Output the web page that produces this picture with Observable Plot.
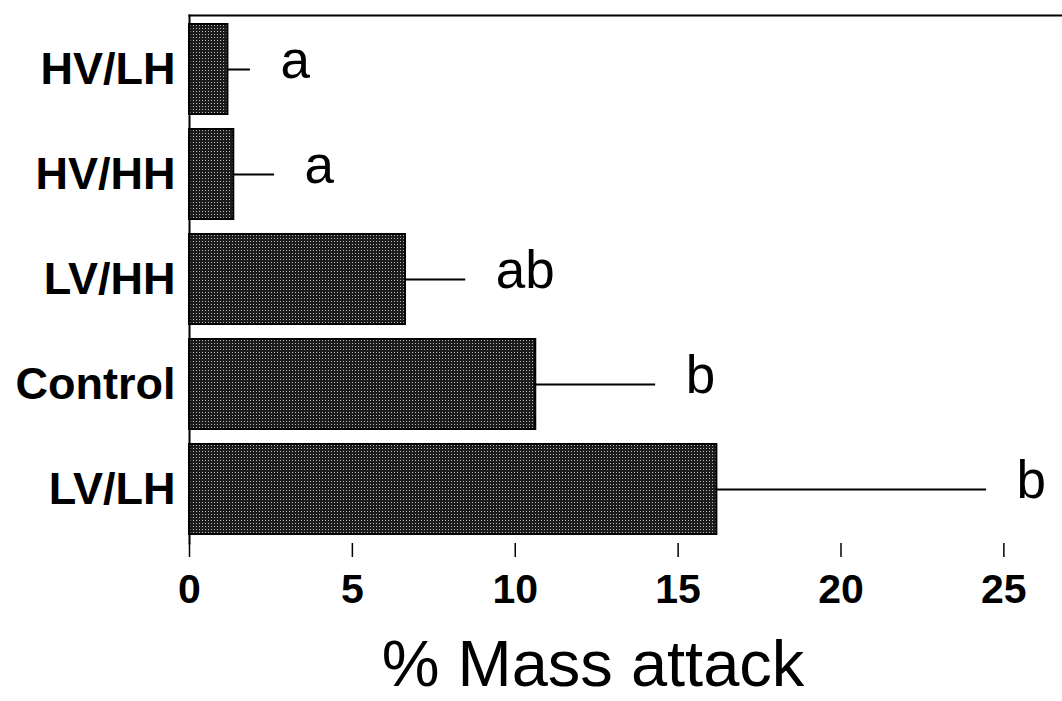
<!DOCTYPE html>
<html>
<head>
<meta charset="utf-8">
<script src="https://cdn.jsdelivr.net/npm/d3@7"></script>
<script src="https://cdn.jsdelivr.net/npm/@observablehq/plot@0.6"></script>
<style>
  html, body { margin: 0; padding: 0; background: #fff; }
  #chart svg { display: block; }
  #chart g[aria-label="x-axis tick label"] { font-size: 41px !important; font-weight: bold; }
  #chart g[aria-label="y-axis tick label"] { font-size: 45px !important; font-weight: bold; }
</style>
</head>
<body>
<div id="chart"></div>
<script>
const categories = ["HV/LH", "HV/HH", "LV/HH", "Control", "LV/LH"];
const means = [1.18, 1.36, 6.63, 10.63, 16.19];
const errors = [0.69, 1.25, 1.85, 3.68, 8.28];
const letters = ["a", "a", "ab", "b", "b"];
const xTicks = [0, 5, 10, 15, 20, 25];
const xLabel = "% Mass attack";

const data = categories.map((c, i) => ({
  cat: c, mean: means[i], hi: means[i] + errors[i], letter: letters[i]
}));

const font = "'Liberation Sans', Arial, sans-serif";

const chart = Plot.plot({
  width: 1062,
  height: 701,
  marginLeft: 189,
  marginRight: 0,
  marginTop: 15,
  marginBottom: 158,
  style: { fontFamily: font, color: "#000", background: "#fff" },
  x: { domain: [0, 26.8], ticks: xTicks, label: null },
  y: { domain: categories, paddingInner: 0.14, paddingOuter: 0.07, label: null },
  marks: [
    Plot.barX(data, { y: "cat", x: "mean", fill: "url(#stipple)", stroke: "#000", strokeWidth: 2 }),
    Plot.ruleY(data, { y: "cat", x1: "mean", x2: "hi", stroke: "#000", strokeWidth: 2 }),
    Plot.text(data, { y: "cat", x: "hi", text: "letter", textAnchor: "start", dx: 30, dy: -8,
      fontSize: 53, fontFamily: font, fill: "#000" }),
    Plot.frame({ anchor: "top", stroke: "#000", strokeWidth: 2 }),
    Plot.frame({ anchor: "left", stroke: "#000", strokeWidth: 2 }),
    Plot.axisX({ ticks: xTicks, tickSize: 14, tickPadding: 16, fontSize: 41, fontWeight: "bold",
      label: null, strokeWidth: 1.5 }),
    Plot.ruleY([0], { frameAnchor: "bottom", stroke: "#000", strokeWidth: 2 }),
    Plot.axisY({ tickSize: 0, tickPadding: 14, fontSize: 45, fontWeight: "bold", label: null }),
    Plot.text([xLabel], { frameAnchor: "bottom", dy: 142, dx: -33, fontSize: 65,
      fontFamily: font, fill: "#000" })
  ]
});

// stipple pattern for bars
const ns = "http://www.w3.org/2000/svg";
const defs = document.createElementNS(ns, "defs");
defs.innerHTML = `
  <pattern id="stipple" patternUnits="userSpaceOnUse" width="3" height="3">
    <rect width="3" height="3" fill="#1c1c1c"></rect>
    <rect x="1" y="1" width="1" height="1" fill="#b8b8b8"></rect>
  </pattern>`;
chart.insertBefore(defs, chart.firstChild);

document.getElementById("chart").appendChild(chart);
</script>
</body>
</html>
